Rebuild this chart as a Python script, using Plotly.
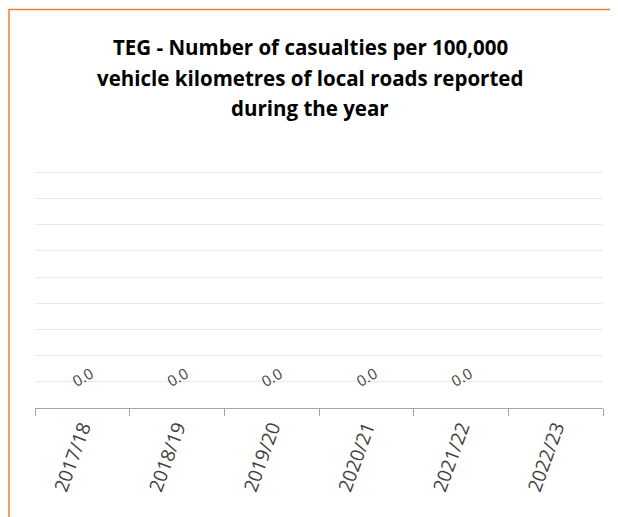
import plotly.graph_objects as go

categories = ["2017/18", "2018/19", "2019/20", "2020/21", "2021/22", "2022/23"]
values = [0.0, 0.0, 0.0, 0.0, 0.0, None]
title_lines = ["TEG - Number of casualties per 100,000",
               "vehicle kilometres of local roads reported",
               "during the year"]

OFF = 8  # page body margin
W, H = 610, 509
# plot area in screen pixels: x 35..603, y 146..408
L = 35 - OFF
R = W - (603 - OFF)
T = 146 - OFF
B = H - (408 - OFF)
pw, ph = W - L - R, H - T - B

def px_x(px):
    return (px - OFF - L) / pw

def px_y(py):
    return (H - B - (py - OFF)) / ph

fig = go.Figure()
fig.add_trace(go.Scatter(x=categories, y=values, mode="lines",
                         line=dict(color="rgba(0,0,0,0)"), showlegend=False,
                         hoverinfo="skip"))

annotations = []
for c, v in zip(categories, values):
    if v is None:
        continue
    annotations.append(dict(x=c, y=v, xref="x", yref="y", text=f"{v:.1f}",
                            showarrow=False, textangle=-30, yshift=31,
                            font=dict(family="Open Sans", size=15, color="#404040")))

for line, py in zip(title_lines, [47, 78, 108]):
    annotations.append(dict(x=px_x(310), y=px_y(py), xref="paper", yref="paper",
                            text="<b>" + line + "</b>", showarrow=False,
                            font=dict(family="Open Sans", size=20.5, color="#000000"),
                            xanchor="center", yanchor="middle"))

fig.update_layout(
    width=W, height=H,
    margin=dict(l=L, r=R, t=T, b=B, autoexpand=False),
    paper_bgcolor="white", plot_bgcolor="white",
    annotations=annotations,
    shapes=[dict(type="rect", xref="paper", yref="paper",
                 x0=px_x(9), x1=px_x(660), y0=px_y(580), y1=px_y(9.5),
                 line=dict(color="#ED7D31", width=1.5), fillcolor="rgba(0,0,0,0)")],
    xaxis=dict(type="category", range=[-0.5, 5.5], showline=True,
               linecolor="#A6A6A6", linewidth=1, ticks="outside",
               tickson="boundaries", ticklen=7, tickcolor="#A6A6A6",
               tickangle=-70, showgrid=False,
               tickfont=dict(family="Open Sans", size=19, color="#404040")),
    yaxis=dict(range=[0, 1], dtick=0.1, showgrid=True, gridcolor="#EBEBEB",
               gridwidth=1, showticklabels=False, zeroline=False, ticks=""),
)

fig.write_html("out.html")
